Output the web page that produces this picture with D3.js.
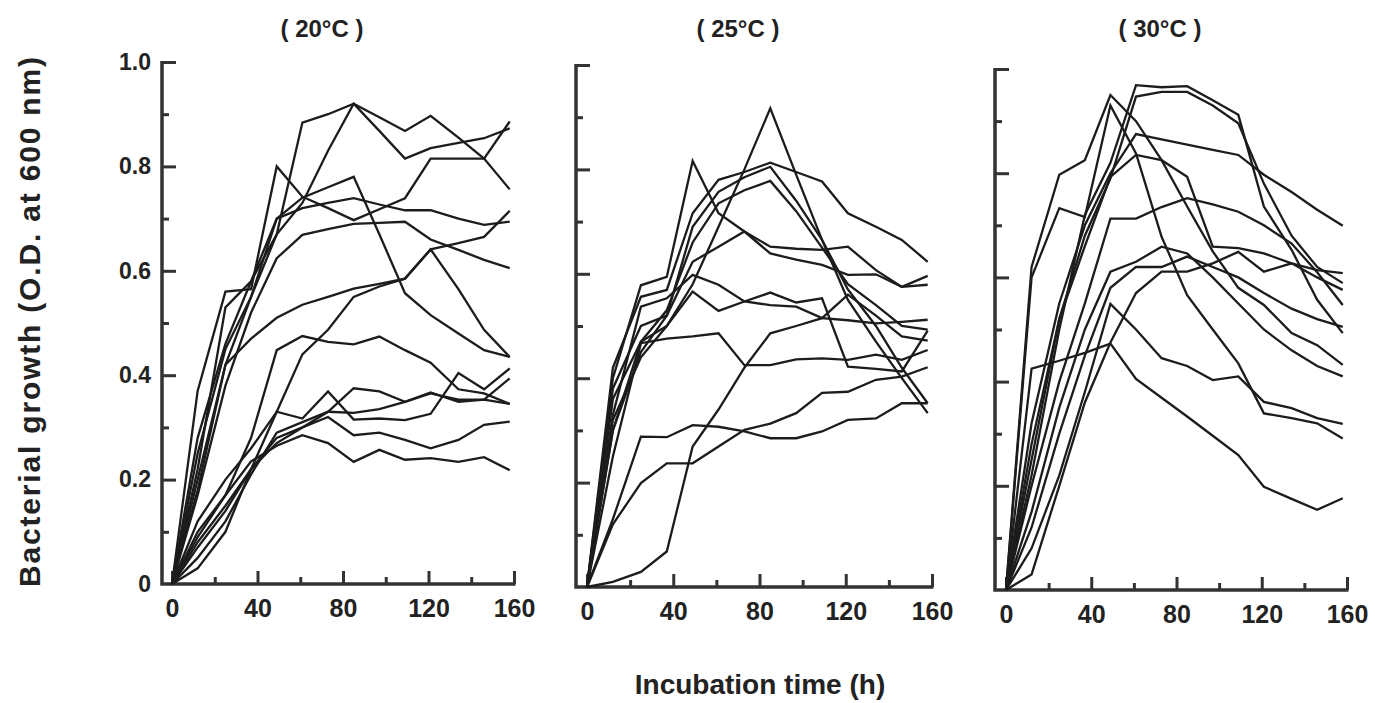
<!DOCTYPE html>
<html>
<head>
<meta charset="utf-8">
<script src="https://cdn.jsdelivr.net/npm/d3@7"></script>
<style>
body { margin: 0; background: #fff; }
text { font-family: "Liberation Sans", Arial, sans-serif; font-weight: bold; fill: #222; }
</style>
</head>
<body>
<div id="main"></div>
<script>
// sampling times (h)
var hours = [0, 12, 25, 37, 49, 61, 73, 85, 97, 109, 121, 134, 146, 158];

var panelTitles = ["( 20°C )", "( 25°C )", "( 30°C )"];
var xTickValues = [0, 40, 80, 120, 160];
var yTickValues = [0, 0.2, 0.4, 0.6, 0.8, 1.0];
var yTickLabels = ["0", "0.2", "0.4", "0.6", "0.8", "1.0"];

// O.D. at 600 nm, one row per strain
var growth20 = [
	[0, 0.22, 0.53, 0.58, 0.67, 0.884, 0.90, 0.92, 0.894, 0.868, 0.897, 0.855, 0.815, 0.756],
	[0, 0.37, 0.56, 0.565, 0.80, 0.742, 0.72, 0.697, 0.718, 0.739, 0.815, 0.815, 0.815, 0.886],
	[0, 0.25, 0.45, 0.55, 0.67, 0.73, 0.83, 0.92, 0.868, 0.815, 0.835, 0.845, 0.854, 0.873],
	[0, 0.18, 0.42, 0.55, 0.70, 0.74, 0.76, 0.78, 0.67, 0.557, 0.515, 0.48, 0.448, 0.435],
	[0, 0.17, 0.38, 0.52, 0.624, 0.669, 0.68, 0.69, 0.692, 0.694, 0.66, 0.64, 0.621, 0.605],
	[0, 0.28, 0.46, 0.58, 0.70, 0.72, 0.73, 0.739, 0.727, 0.716, 0.716, 0.70, 0.688, 0.694],
	[0, 0.20, 0.42, 0.47, 0.51, 0.535, 0.55, 0.566, 0.575, 0.585, 0.641, 0.653, 0.665, 0.715],
	[0, 0.03, 0.10, 0.22, 0.33, 0.44, 0.487, 0.55, 0.57, 0.585, 0.641, 0.565, 0.487, 0.435],
	[0, 0.09, 0.17, 0.28, 0.448, 0.475, 0.464, 0.459, 0.474, 0.448, 0.424, 0.373, 0.365, 0.345],
	[0, 0.12, 0.20, 0.26, 0.33, 0.317, 0.369, 0.315, 0.317, 0.314, 0.326, 0.404, 0.373, 0.413],
	[0, 0.07, 0.14, 0.22, 0.27, 0.30, 0.33, 0.375, 0.369, 0.349, 0.367, 0.349, 0.353, 0.394],
	[0, 0.05, 0.12, 0.21, 0.29, 0.31, 0.33, 0.328, 0.335, 0.349, 0.365, 0.353, 0.353, 0.345],
	[0, 0.08, 0.15, 0.22, 0.28, 0.30, 0.32, 0.285, 0.29, 0.276, 0.26, 0.276, 0.305, 0.311],
	[0, 0.10, 0.17, 0.235, 0.265, 0.285, 0.27, 0.234, 0.257, 0.238, 0.241, 0.234, 0.243, 0.218]
];

var growth25 = [
	[0, 0.32, 0.44, 0.50, 0.58, 0.69, 0.80, 0.917, 0.79, 0.665, 0.55, 0.47, 0.40, 0.333],
	[0, 0.42, 0.556, 0.569, 0.716, 0.78, 0.795, 0.813, 0.795, 0.777, 0.716, 0.69, 0.665, 0.623],
	[0, 0.38, 0.50, 0.52, 0.69, 0.757, 0.785, 0.805, 0.74, 0.665, 0.57, 0.50, 0.42, 0.352],
	[0, 0.36, 0.47, 0.53, 0.66, 0.735, 0.76, 0.778, 0.72, 0.65, 0.58, 0.54, 0.50, 0.493],
	[0, 0.40, 0.578, 0.594, 0.816, 0.716, 0.681, 0.652, 0.648, 0.646, 0.652, 0.607, 0.575, 0.596],
	[0, 0.30, 0.45, 0.52, 0.623, 0.652, 0.681, 0.639, 0.627, 0.617, 0.598, 0.599, 0.575, 0.579],
	[0, 0.33, 0.537, 0.553, 0.598, 0.579, 0.547, 0.54, 0.537, 0.515, 0.511, 0.505, 0.508, 0.512],
	[0, 0.30, 0.47, 0.50, 0.566, 0.529, 0.547, 0.564, 0.545, 0.553, 0.422, 0.418, 0.413, 0.491],
	[0, 0.01, 0.029, 0.068, 0.269, 0.34, 0.42, 0.486, 0.50, 0.515, 0.56, 0.52, 0.48, 0.472],
	[0, 0.25, 0.467, 0.476, 0.48, 0.486, 0.425, 0.425, 0.436, 0.438, 0.435, 0.445, 0.435, 0.454],
	[0, 0.12, 0.199, 0.237, 0.237, 0.269, 0.301, 0.313, 0.333, 0.372, 0.374, 0.397, 0.403, 0.421],
	[0, 0.13, 0.288, 0.287, 0.31, 0.307, 0.298, 0.285, 0.285, 0.298, 0.32, 0.323, 0.352, 0.352]
];

var growth30 = [
	[0, 0.22, 0.50, 0.72, 0.82, 0.969, 0.965, 0.967, 0.94, 0.912, 0.736, 0.653, 0.557, 0.493],
	[0, 0.25, 0.52, 0.68, 0.79, 0.947, 0.956, 0.956, 0.93, 0.896, 0.78, 0.68, 0.62, 0.589],
	[0, 0.32, 0.55, 0.70, 0.80, 0.875, 0.865, 0.855, 0.845, 0.835, 0.797, 0.764, 0.73, 0.699],
	[0, 0.28, 0.52, 0.66, 0.793, 0.835, 0.825, 0.793, 0.659, 0.656, 0.646, 0.627, 0.614, 0.608],
	[0, 0.20, 0.40, 0.55, 0.713, 0.713, 0.735, 0.752, 0.74, 0.726, 0.70, 0.665, 0.61, 0.547],
	[0, 0.15, 0.35, 0.50, 0.611, 0.63, 0.659, 0.646, 0.60, 0.55, 0.50, 0.46, 0.43, 0.41],
	[0, 0.12, 0.30, 0.45, 0.58, 0.62, 0.62, 0.64, 0.62, 0.60, 0.57, 0.54, 0.52, 0.505],
	[0, 0.03, 0.20, 0.36, 0.475, 0.57, 0.611, 0.611, 0.627, 0.649, 0.611, 0.627, 0.60, 0.576],
	[0, 0.62, 0.797, 0.825, 0.95, 0.90, 0.825, 0.736, 0.65, 0.58, 0.547, 0.493, 0.47, 0.432],
	[0, 0.60, 0.733, 0.716, 0.93, 0.838, 0.678, 0.566, 0.50, 0.435, 0.339, 0.33, 0.32, 0.291],
	[0, 0.08, 0.22, 0.38, 0.549, 0.50, 0.445, 0.43, 0.403, 0.41, 0.361, 0.349, 0.33, 0.319],
	[0, 0.425, 0.44, 0.455, 0.473, 0.405, 0.369, 0.333, 0.296, 0.259, 0.198, 0.175, 0.154, 0.176]
];

var allGrowth = [growth20, growth25, growth30];

// panel frames (the scan is slightly skewed, so each panel has its own)
var frames = [
	{ axisX: 162, x0: 172, x1: 514, y0: 584, y1: 62, titleX: 322 },
	{ axisX: 576, x0: 587, x1: 932, y0: 587, y1: 65, titleX: 738 },
	{ axisX: 995, x0: 1006, x1: 1347, y0: 590, y1: 69, titleX: 1160 }
];

var svg = d3.select("#main").append("svg")
	.attr("width", 1375)
	.attr("height", 703);

frames.forEach(function(f, p) {
	var x = d3.scaleLinear().domain([0, 160]).range([f.x0, f.x1]);
	var y = d3.scaleLinear().domain([0, 1]).range([f.y0, f.y1]);
	var g = svg.append("g");

	// y ticks, pointing into the plot
	var yMinor = g.append("g")
		.attr("transform", "translate(" + f.axisX + ",0)")
		.call(d3.axisRight(y).tickValues([0.1, 0.3, 0.5, 0.7, 0.9]).tickSize(7).tickFormat(""));
	var yMajor = g.append("g")
		.attr("transform", "translate(" + f.axisX + ",0)")
		.call(d3.axisRight(y).tickValues([0.2, 0.4, 0.6, 0.8, 1.0]).tickSize(14).tickFormat(""));

	// x ticks, pointing up
	var xMinor = g.append("g")
		.attr("transform", "translate(0," + f.y0 + ")")
		.call(d3.axisTop(x).tickValues([20, 60, 100, 140]).tickSize(7).tickFormat(""));
	var xMajor = g.append("g")
		.attr("transform", "translate(0," + f.y0 + ")")
		.call(d3.axisTop(x).tickValues([0, 40, 80, 120, 160]).tickSize(13).tickFormat(""));

	[yMinor, yMajor, xMinor, xMajor].forEach(function(a) {
		a.select(".domain").remove();
		a.selectAll("line").attr("stroke", "#333").attr("stroke-width", 3);
	});

	// axis frame
	g.append("path")
		.attr("d", "M" + f.axisX + "," + (y(1) - 1) + "V" + f.y0 + "H" + (x(160) + 1.5))
		.attr("fill", "none")
		.attr("stroke", "#333")
		.attr("stroke-width", 3.5);

	// x tick labels
	var xl = g.append("g")
		.attr("transform", "translate(0," + f.y0 + ")")
		.call(d3.axisBottom(x).tickValues(xTickValues).tickSize(0).tickPadding(15).tickFormat(d3.format("d")));
	xl.select(".domain").remove();
	xl.selectAll("text").attr("font-size", 25).attr("font-family", null).attr("fill", "#222");

	// y tick labels only on the first panel
	if (p == 0) {
		var yl = g.append("g")
			.attr("transform", "translate(" + (f.axisX - 11) + ",0)")
			.call(d3.axisLeft(y).tickValues(yTickValues).tickSize(0).tickPadding(0)
				.tickFormat(function(d, i) { return yTickLabels[i]; }));
		yl.select(".domain").remove();
		yl.selectAll("text").attr("font-size", 23).attr("font-family", null).attr("fill", "#222");
	}

	g.append("text")
		.attr("x", f.titleX)
		.attr("y", 37)
		.attr("text-anchor", "middle")
		.attr("font-size", 24)
		.text(panelTitles[p]);

	var line = d3.line()
		.x(function(d) { return x(d[0]); })
		.y(function(d) { return y(d[1]); });

	allGrowth[p].forEach(function(series) {
		var pts = hours.map(function(h, i) { return [h, series[i]]; })
			.filter(function(d) { return d[1] != null; });
		g.append("path")
			.datum(pts)
			.attr("d", line)
			.attr("fill", "none")
			.attr("stroke", "#1c1c1c")
			.attr("stroke-width", 2.3)
			.attr("stroke-linejoin", "miter");
	});
});

// shared axis titles
svg.append("text")
	.attr("transform", "translate(40,322) rotate(-90)")
	.attr("text-anchor", "middle")
	.attr("font-size", 30)
	.attr("textLength", 530)
	.attr("lengthAdjust", "spacing")
	.text("Bacterial growth (O.D. at 600 nm)");

svg.append("text")
	.attr("x", 760)
	.attr("y", 694)
	.attr("text-anchor", "middle")
	.attr("font-size", 28)
	.text("Incubation time (h)");
</script>
</body>
</html>
